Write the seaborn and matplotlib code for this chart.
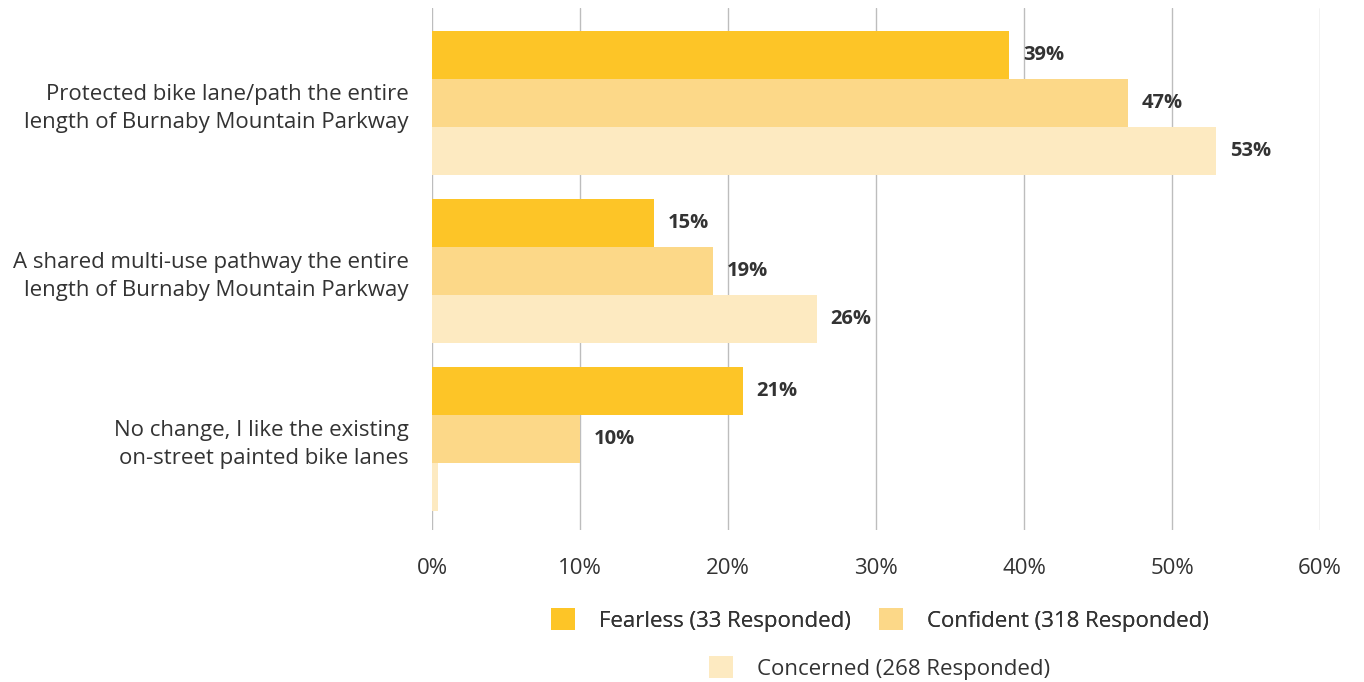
import matplotlib
matplotlib.use("Agg")
import matplotlib.pyplot as plt
import seaborn as sns
import pandas as pd
from matplotlib.patches import Patch

categories = [
    "Protected bike lane/path the entire\nlength of Burnaby Mountain Parkway",
    "A shared multi-use pathway the entire\nlength of Burnaby Mountain Parkway",
    "No change, I like the existing\non-street painted bike lanes",
]
groups = ["Fearless (33 Responded)", "Confident (318 Responded)", "Concerned (268 Responded)"]
fearless = [39, 15, 21]
confident = [47, 19, 10]
concerned = [53, 26, 0.4]
x_ticks = [0, 10, 20, 30, 40, 50, 60]
colors = ["#FDC527", "#FCD888", "#FDEAC1"]

rows = []
for g, vals in zip(groups, [fearless, confident, concerned]):
    for c, v in zip(categories, vals):
        rows.append({"option": c, "group": g, "pct": v})
df = pd.DataFrame(rows)

sns.set_style("white")
plt.rcParams["font.family"] = ["Open Sans", "DejaVu Sans"]
text_color = "#333333"
fs = 16

fig = plt.figure(figsize=(13.64, 6.82), dpi=100)
ax = fig.add_axes([432 / 1364, 1 - 530 / 682, (1320 - 432) / 1364, (530 - 8) / 682])

sns.barplot(data=df, y="option", x="pct", hue="group", order=categories,
            hue_order=groups, palette=colors, orient="h", width=0.857,
            gap=0, saturation=1, legend=False, ax=ax, errorbar=None,
            linewidth=0, edgecolor="none")

ax.set_xlim(0, 60)
ax.set_ylim(2.542, -0.565)
ax.set_xticks(x_ticks)
ax.set_xticklabels([f"{t}%" for t in x_ticks])
ax.set_xlabel("")
ax.set_ylabel("")
for s in ax.spines.values():
    s.set_visible(False)
ax.grid(axis="x", color="#BDBDBD", linewidth=1)
ax.set_axisbelow(True)
ax.tick_params(axis="x", length=0, pad=20, labelsize=fs, labelcolor=text_color)
ax.tick_params(axis="y", length=0, pad=17, labelsize=fs, labelcolor=text_color)
for lbl in ax.get_yticklabels():
    lbl.set_linespacing(1.38)
    lbl.set_horizontalalignment("right")

for cont in ax.containers:
    for bar in cont:
        w = bar.get_width()
        if w < 1:
            continue
        ax.annotate(f"{w:.0f}%", (w, bar.get_y() + bar.get_height() / 2),
                    xytext=(10, 0), textcoords="offset points",
                    ha="left", va="center", fontsize=14.5, fontweight="bold",
                    color=text_color)

handles = [Patch(facecolor=c, edgecolor="none") for c in colors]
leg_kw = dict(frameon=False, fontsize=fs, handlelength=1.08, handleheight=1.08,
              handletextpad=1.08, columnspacing=1.3, labelcolor=text_color,
              borderpad=0, borderaxespad=0)
leg1 = fig.legend(handles[:2], groups[:2], ncol=2, loc="center",
                  bbox_to_anchor=(880 / 1364, 1 - 620 / 682), **leg_kw)
fig.add_artist(leg1)
fig.legend(handles[2:], groups[2:], ncol=1, loc="center",
           bbox_to_anchor=(880 / 1364, 1 - 668 / 682), **leg_kw)

fig.savefig("out.png", dpi=100)
